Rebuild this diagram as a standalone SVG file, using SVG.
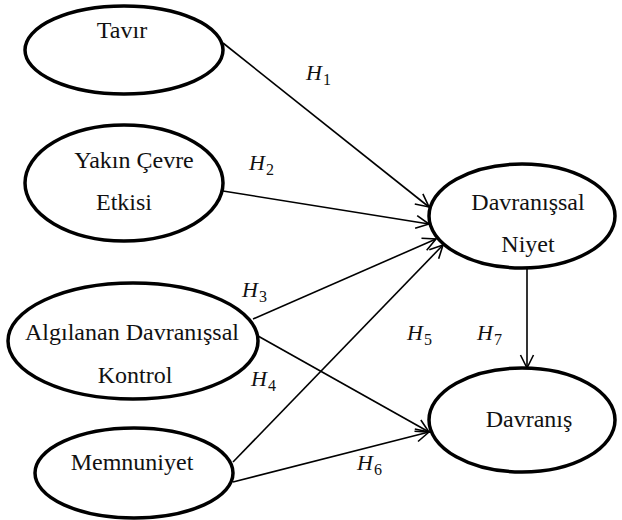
<svg xmlns="http://www.w3.org/2000/svg" width="622" height="520" viewBox="0 0 622 520">
<defs>
<style>
.node ellipse{fill:#fff;stroke:#000;stroke-width:3.5}
.node text{font-family:"Liberation Serif","Times New Roman",serif;font-size:24px;fill:#111;text-anchor:middle}
.edges line{stroke:#000;stroke-width:1.6;fill:none}
.lbl{font-family:"Liberation Serif","Times New Roman",serif;font-style:italic;font-size:22px;fill:#111}
.sub{font-family:"Liberation Serif","Times New Roman",serif;font-size:16px;fill:#111}
</style>
<marker id="arr" markerUnits="userSpaceOnUse" markerWidth="16" markerHeight="16" viewBox="0 0 16 16" refX="14" refY="8" orient="auto">
<path d="M1,1.5 L14,8 L1,14.5" fill="none" stroke="#000" stroke-width="1.6"/>
</marker>
</defs>
<rect width="622" height="520" fill="#fff"/>
<g class="edges">
<line x1="223" y1="43" x2="429" y2="207" marker-end="url(#arr)"/>
<line x1="223" y1="191" x2="429" y2="224" marker-end="url(#arr)"/>
<line x1="253" y1="319" x2="436" y2="239" marker-end="url(#arr)"/>
<line x1="233" y1="462" x2="443" y2="245" marker-end="url(#arr)"/>
<line x1="258" y1="336" x2="429" y2="432" marker-end="url(#arr)"/>
<line x1="233" y1="482" x2="429" y2="432" marker-end="url(#arr)"/>
<line x1="527" y1="268" x2="527" y2="368" marker-end="url(#arr)"/>
</g>
<g id="tavir" class="node">
<ellipse cx="124" cy="50" rx="99" ry="44"/>
<text x="122" y="38">Tavır</text>
</g>
<g id="yakin" class="node">
<ellipse cx="124" cy="183" rx="99" ry="58"/>
<text x="134" y="168">Yakın Çevre</text>
<text x="124" y="210">Etkisi</text>
</g>
<g id="algilanan" class="node">
<ellipse cx="133" cy="341" rx="125" ry="58"/>
<text x="132" y="340">Algılanan Davranışsal</text>
<text x="135" y="383">Kontrol</text>
</g>
<g id="memnuniyet" class="node">
<ellipse cx="134" cy="473" rx="99" ry="45"/>
<text x="132" y="470">Memnuniyet</text>
</g>
<g id="niyet" class="node">
<ellipse cx="522" cy="216" rx="93" ry="52"/>
<text x="528" y="210">Davranışsal</text>
<text x="528" y="252">Niyet</text>
</g>
<g id="davranis" class="node">
<ellipse cx="522" cy="420" rx="93" ry="52"/>
<text x="529" y="427">Davranış</text>
</g>
<g id="labels">
<text class="lbl" x="306" y="80">H</text><text class="sub" x="323" y="85">1</text>
<text class="lbl" x="249" y="170">H</text><text class="sub" x="266" y="175">2</text>
<text class="lbl" x="242" y="297">H</text><text class="sub" x="259" y="302">3</text>
<text class="lbl" x="251" y="386">H</text><text class="sub" x="268" y="391">4</text>
<text class="lbl" x="407" y="340">H</text><text class="sub" x="424" y="345">5</text>
<text class="lbl" x="357" y="470">H</text><text class="sub" x="374" y="475">6</text>
<text class="lbl" x="477" y="340">H</text><text class="sub" x="494" y="345">7</text>
</g>
</svg>
